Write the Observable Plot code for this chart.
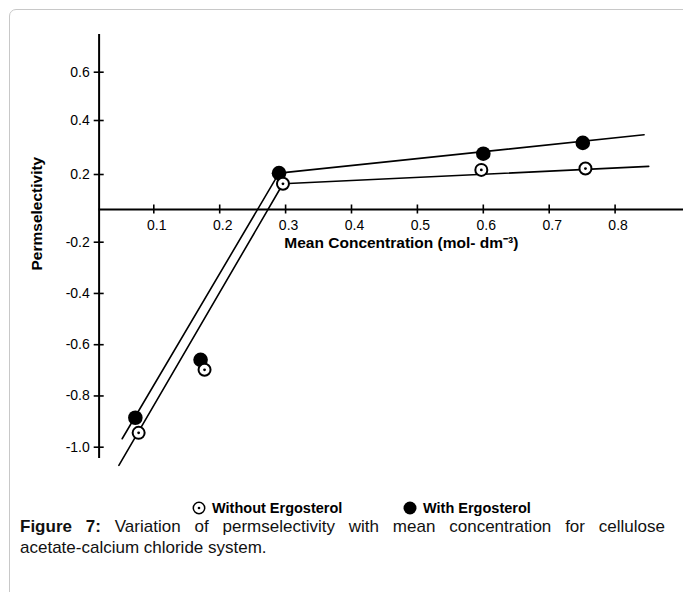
<!DOCTYPE html>
<html>
<head>
<meta charset="utf-8">
<script src="https://cdn.jsdelivr.net/npm/d3@7"></script>
<script src="https://cdn.jsdelivr.net/npm/@observablehq/plot@0.6"></script>
<style>
  html, body { margin: 0; padding: 0; background: #fff; overflow: hidden; }
  #page { position: relative; width: 683px; height: 592px; font-family: "Liberation Sans", Arial, sans-serif; color: #000; }
  #box { position: absolute; left: 9px; top: 9px; width: 700px; height: 600px; border: 1px solid #c8c8c8; border-radius: 7px; box-sizing: border-box; }
  #chart { position: absolute; left: 0; top: 0; }
  .leg { position: absolute; top: 498px; height: 20px; display: flex; align-items: center; font-weight: bold; font-size: 14.5px; white-space: nowrap; }
  .leg svg { margin-right: 6px; }
  #caption { position: absolute; left: 20px; top: 516px; width: 645px; font-size: 17px; line-height: 21px; color: #111; }
  #caption .l1 { text-align: justify; text-align-last: justify; white-space: nowrap; }
</style>
</head>
<body>
<div id="page">
  <div id="box"></div>
  <div id="chart"></div>
  <div class="leg" id="leg1" style="left:192px"></div>
  <div class="leg" id="leg2" style="left:403px"></div>
  <div id="caption"><div class="l1" style="white-space:normal"><b>Figure 7:</b> Variation of permselectivity with mean concentration for cellulose</div><div>acetate-calcium chloride system.</div></div>
</div>
<script>
// ---- data ----
const xTicks = [0.1, 0.2, 0.3, 0.4, 0.5, 0.6, 0.7, 0.8];
const xTickLabels = ["0.1", "0.2", "0.3", "0.4", "0.5", "0.6", "0.7", "0.8"];
const yTicks = [0.6, 0.4, 0.2, -0.2, -0.4, -0.6, -0.8, -1.0];
const yTickLabels = ["0.6", "0.4", "0.2", "-0.2", "-0.4", "-0.6", "-0.8", "-1.0"];

const seriesNames = ["Without Ergosterol", "With Ergosterol"];

const concWithout = [0.077, 0.177, 0.296, 0.597, 0.755];
const permWithout = [-0.944, -0.698, 0.147, 0.217, 0.222];
const concWith = [0.072, 0.171, 0.290, 0.600, 0.751];
const permWith = [-0.885, -0.659, 0.205, 0.277, 0.317];

// hand-drawn fit lines (end point, knee, end point)
const fitWithoutX = [0.047, 0.296, 0.851];
const fitWithoutY = [-1.071, 0.147, 0.230];
const fitWithX = [0.052, 0.290, 0.844];
const fitWithY = [-0.967, 0.205, 0.347];

// axis line extents (data units)
const yAxisAt = 0.017;
const yAxisExtent = [-1.044, 0.756];
const xAxisExtent = [0.017, 0.91];

// ---- build tables ----
const without = concWithout.map((c, i) => ({x: c, y: permWithout[i]}));
const withE = concWith.map((c, i) => ({x: c, y: permWith[i]}));
const fitWithout = fitWithoutX.map((c, i) => ({x: c, y: fitWithoutY[i]}));
const fitWith = fitWithX.map((c, i) => ({x: c, y: fitWithY[i]}));

const chart = Plot.plot({
  width: 683,
  height: 480,
  marginLeft: 98.7,
  marginRight: 0,
  marginTop: 0,
  marginBottom: 271,
  style: {fontFamily: "'Liberation Sans', Arial, sans-serif", fontSize: "14px", color: "#000", background: "transparent", overflow: "visible"},
  x: {type: "linear", domain: [0, 0.8], range: [87.4, 614.6]},
  y: {type: "linear", domain: [-1.0, -0.2, 0, 0.2, 0.4, 0.6], range: [446.7, 241.7, 209, 174, 120, 71.7]},
  marks: [
    Plot.ruleX([yAxisAt], {y1: yAxisExtent[0], y2: yAxisExtent[1], strokeWidth: 2}),
    Plot.ruleY([0], {x1: xAxisExtent[0], x2: xAxisExtent[1], strokeWidth: 2}),
    Plot.axisY(yTicks, {anchor: "left", tickSize: 10, tickPadding: 4.4, dx: 5, strokeWidth: 1.6,
      tickFormat: d => yTickLabels[yTicks.indexOf(d)], label: null, fontSize: 14}),
    Plot.axisX(xTicks, {anchor: "bottom", tickSize: 9, dy: -4.5, strokeWidth: 1.6, tickFormat: () => "", label: null}),
    Plot.axisX(xTicks, {anchor: "bottom", tickSize: 0, tickPadding: 11, dx: 3,
      tickFormat: d => xTickLabels[xTicks.indexOf(d)], label: null, fontSize: 14}),
    Plot.line(fitWith, {x: "x", y: "y", stroke: "#000", strokeWidth: 1.6}),
    Plot.line(fitWithout, {x: "x", y: "y", stroke: "#000", strokeWidth: 1.6}),
    Plot.dot(withE, {x: "x", y: "y", r: 7.3, fill: "#000"}),
    Plot.dot(without, {x: "x", y: "y", r: 6, fill: "#fff", stroke: "#000", strokeWidth: 2}),
    Plot.dot(without, {x: "x", y: "y", r: 1.4, fill: "#000"}),
    Plot.text(["Permselectivity"], {frameAnchor: "left", rotate: -90, dx: -61.7, dy: 165.5, fontWeight: "bold", fontSize: 15.5}),
    Plot.text(["Mean Concentration (mol- dm\u207B\u00B3)"], {frameAnchor: "bottom", dx: 10, dy: 38, fontWeight: "bold", fontSize: 15.5})
  ]
});
document.getElementById("chart").appendChild(chart);

// legend
const ns = "http://www.w3.org/2000/svg";
function legendItem(el, filled, name) {
  const svg = document.createElementNS(ns, "svg");
  svg.setAttribute("width", 14); svg.setAttribute("height", 14);
  const c = document.createElementNS(ns, "circle");
  c.setAttribute("cx", 7); c.setAttribute("cy", 7);
  if (filled) { c.setAttribute("r", 6.5); c.setAttribute("fill", "#000"); }
  else {
    c.setAttribute("r", 5.7); c.setAttribute("fill", "#fff"); c.setAttribute("stroke", "#000"); c.setAttribute("stroke-width", 1.5);
  }
  svg.appendChild(c);
  if (!filled) {
    const d = document.createElementNS(ns, "circle");
    d.setAttribute("cx", 7); d.setAttribute("cy", 7); d.setAttribute("r", 1.3); d.setAttribute("fill", "#000");
    svg.appendChild(d);
  }
  el.appendChild(svg);
  el.appendChild(document.createTextNode(name));
}
legendItem(document.getElementById("leg1"), false, seriesNames[0]);
legendItem(document.getElementById("leg2"), true, seriesNames[1]);
</script>
</body>
</html>
